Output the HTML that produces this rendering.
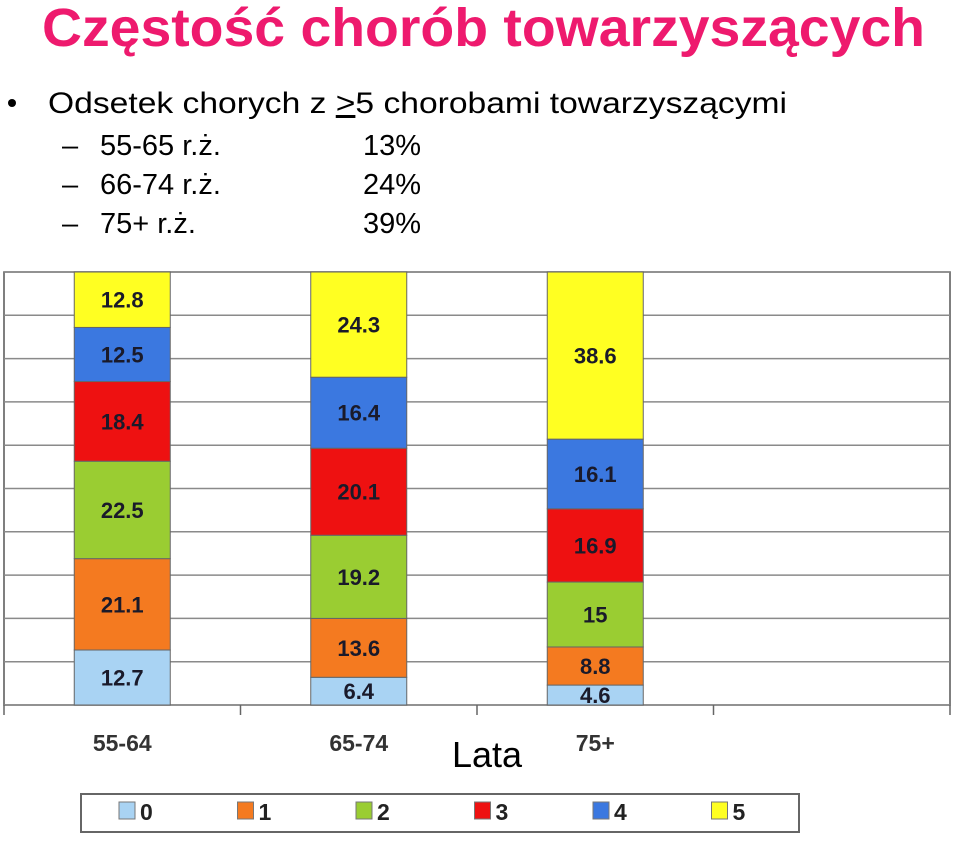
<!DOCTYPE html>
<html><head><meta charset="utf-8"><style>
html,body{margin:0;padding:0;background:#fff;}
svg{display:block;font-family:"Liberation Sans",sans-serif;}
</style></head><body>
<svg id="chart" width="960" height="842" viewBox="0 0 960 842">
<text x="42" y="46" font-size="54" font-weight="bold" fill="#ee1a6e" textLength="883" lengthAdjust="spacingAndGlyphs">Częstość chorób towarzyszących</text>
<circle cx="12" cy="103" r="4" fill="#000"/>
<text x="48" y="113" font-size="30" fill="#000" textLength="739" lengthAdjust="spacingAndGlyphs">Odsetek chorych z  <tspan text-decoration="underline">&gt;</tspan>5 chorobami towarzyszącymi</text>
<g font-size="29" fill="#000">
<text x="62" y="155">–</text><text x="100" y="155">55-65 r.ż.</text><text x="363" y="155">13%</text>
<text x="62" y="194">–</text><text x="100" y="194">66-74 r.ż.</text><text x="363" y="194">24%</text>
<text x="62" y="233">–</text><text x="100" y="233">75+ r.ż.</text><text x="363" y="233">39%</text>
</g>
<g id="plot"></g>
<text x="487" y="767" font-size="36" text-anchor="middle" fill="#000">Lata</text>
<g id="legend"></g>
</svg>
<script>
const categories = ["55-64", "65-74", "75+"];
const seriesNames = ["0", "1", "2", "3", "4", "5"];
const s0 = [12.7, 6.4, 4.6];
const s1 = [21.1, 13.6, 8.8];
const s2 = [22.5, 19.2, 15];
const s3 = [18.4, 20.1, 16.9];
const s4 = [12.5, 16.4, 16.1];
const s5 = [12.8, 24.3, 38.6];
const yTicks = [0,10,20,30,40,50,60,70,80,90,100];

const series = [s0,s1,s2,s3,s4,s5];
const colors = ["#a9d3f3","#f47a20","#9acd32","#ee1111","#3b78e0","#ffff22"];
const NS = "http://www.w3.org/2000/svg";
const plot = document.getElementById("plot");
const L=4, R=950, T=272, B=705;
const slots = 4, slotW = (R-L)/slots, barW = 96;
const y = v => B - (v/100)*(B-T);
const xc = i => L + slotW*(i+0.5);
function mk(tag, attrs, parent){const e=document.createElementNS(NS,tag);for(const k in attrs)e.setAttribute(k,attrs[k]);parent.appendChild(e);return e;}

const bg = mk("rect",{x:L,y:T,width:R-L,height:B-T,fill:"#fff",stroke:"#555","stroke-width":1.5},plot);


yTicks.forEach(t=>{
  const g = mk("line",{x1:L,x2:R,y1:y(t),y2:y(t),stroke:"#8a8a8a","stroke-width":1.5},plot);
  
  
});
for(let i=0;i<=slots;i++){
  const tk = mk("line",{x1:L+slotW*i,x2:L+slotW*i,y1:B,y2:B+10,stroke:"#666","stroke-width":1.5},plot);
  
  
}
categories.forEach((c,i)=>{
  let cum=0;
  series.forEach((s,k)=>{
    const v=s[i];
    const r = mk("rect",{x:xc(i)-barW/2,y:y(cum+v),width:barW,height:y(cum)-y(cum+v),fill:colors[k],stroke:"#666","stroke-width":1},plot);
    
    
    const t = mk("text",{x:xc(i),y:(y(cum)+y(cum+v))/2+8,"text-anchor":"middle","font-size":22,"font-weight":"bold",fill:"#1a1a2a"},plot);
    t.textContent = String(v);
    
    
    cum+=v;
  });
  const lab = mk("text",{x:xc(i),y:751,"text-anchor":"middle","font-size":23,"font-weight":"bold",fill:"#333"},plot);
  lab.textContent = c;
  
  
});
const leg = document.getElementById("legend");
const lb = mk("rect",{x:81,y:794,width:718,height:38,fill:"#fff",stroke:"#666","stroke-width":2},leg);


seriesNames.forEach((n,k)=>{
  const lx = 119 + k*118.5;
  const sw = mk("rect",{x:lx,y:802,width:16,height:17,fill:colors[k],stroke:"#777","stroke-width":1},leg);
  
  
  const lt = mk("text",{x:lx+21,y:820,"font-size":23,"font-weight":"bold",fill:"#222"},leg);
  lt.textContent = n;
  
  
});
</script>
</body></html>
